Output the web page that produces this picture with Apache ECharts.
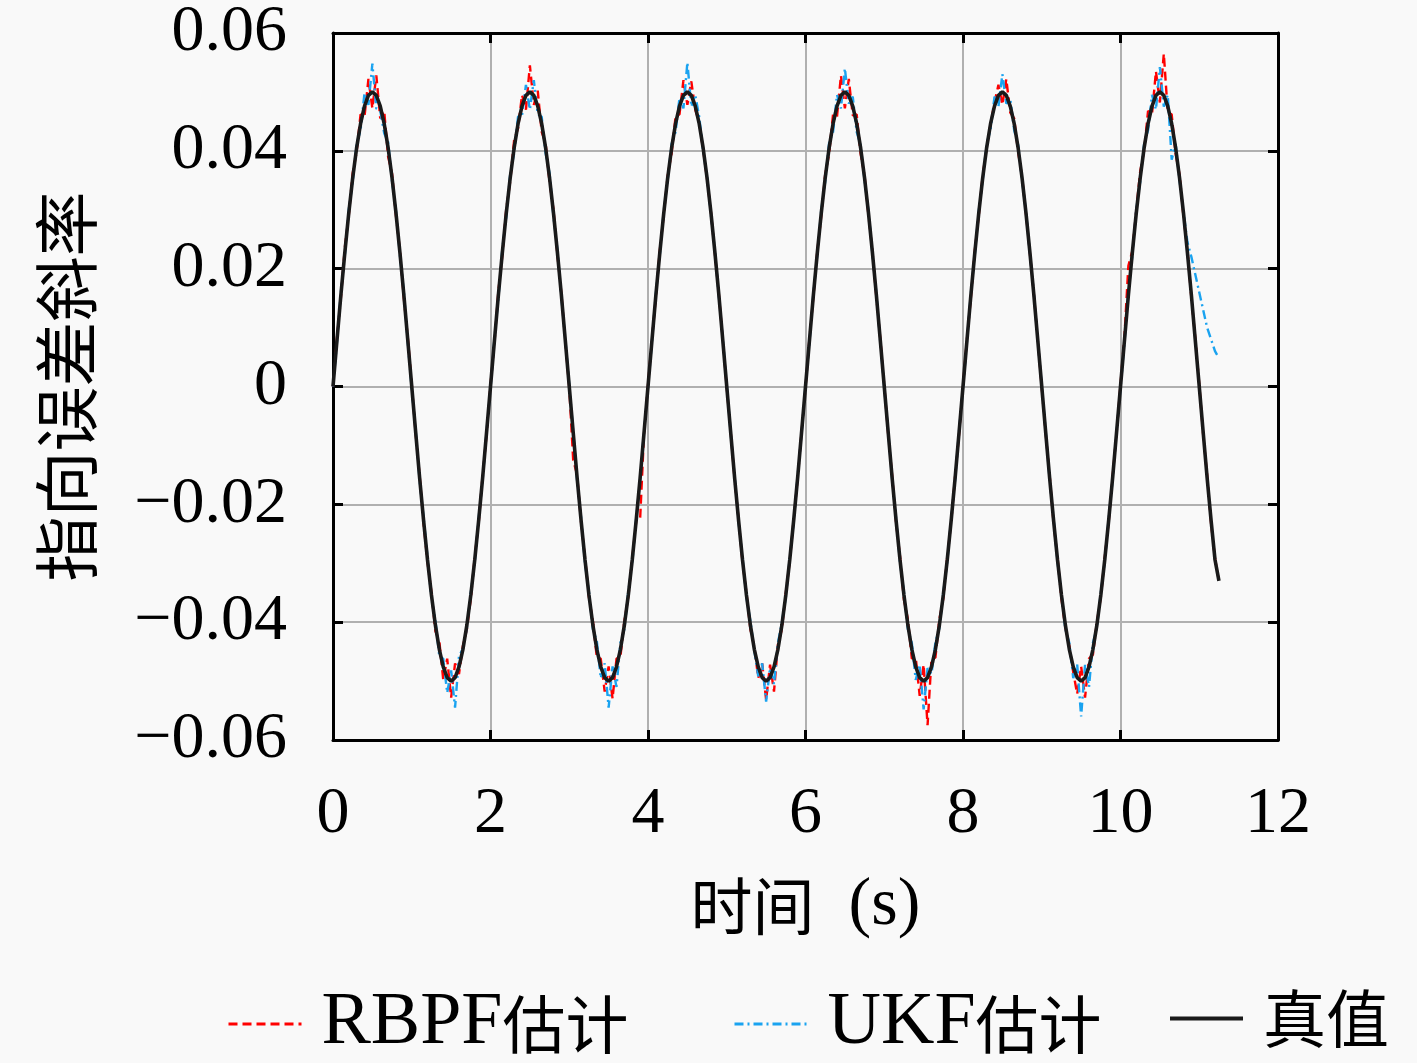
<!DOCTYPE html>
<html><head><meta charset="utf-8">
<script src="https://cdn.jsdelivr.net/npm/echarts@6/dist/echarts.min.js"></script>
<style>html,body{margin:0;padding:0;background:#f9f9f9}#c{width:1417px;height:1063px}</style>
</head><body><div id="c"></div>
<script>
// sampling step of the time axis (s)
const timeStep = 0.05;
const seriesNames = ['RBPF估计', 'UKF估计', '真值'];
const xTicks = [0, 2, 4, 6, 8, 10, 12];
const yTicks = [-0.06, -0.04, -0.02, 0, 0.02, 0.04, 0.06];

const truth = [
0,.0078,.0155,.0227,.0294,.0354,.0405,.0446,.0476,.0494,.05,.0494,.0476,.0446,.0405,.0354,.0294,.0227,.0155,.0078,
0,-.0078,-.0155,-.0227,-.0294,-.0354,-.0405,-.0446,-.0476,-.0494,-.05,-.0494,-.0476,-.0446,-.0405,-.0354,-.0294,-.0227,-.0155,-.0078,
0,.0078,.0155,.0227,.0294,.0354,.0405,.0446,.0476,.0494,.05,.0494,.0476,.0446,.0405,.0354,.0294,.0227,.0155,.0078,
0,-.0078,-.0155,-.0227,-.0294,-.0354,-.0405,-.0446,-.0476,-.0494,-.05,-.0494,-.0476,-.0446,-.0405,-.0354,-.0294,-.0227,-.0155,-.0078,
0,.0078,.0155,.0227,.0294,.0354,.0405,.0446,.0476,.0494,.05,.0494,.0476,.0446,.0405,.0354,.0294,.0227,.0155,.0078,
0,-.0078,-.0155,-.0227,-.0294,-.0354,-.0405,-.0446,-.0476,-.0494,-.05,-.0494,-.0476,-.0446,-.0405,-.0354,-.0294,-.0227,-.0155,-.0078,
0,.0078,.0155,.0227,.0294,.0354,.0405,.0446,.0476,.0494,.05,.0494,.0476,.0446,.0405,.0354,.0294,.0227,.0155,.0078,
0,-.0078,-.0155,-.0227,-.0294,-.0354,-.0405,-.0446,-.0476,-.0494,-.05,-.0494,-.0476,-.0446,-.0405,-.0354,-.0294,-.0227,-.0155,-.0078,
0,.0078,.0155,.0227,.0294,.0354,.0405,.0446,.0476,.0494,.05,.0494,.0476,.0446,.0405,.0354,.0294,.0227,.0155,.0078,
0,-.0078,-.0155,-.0227,-.0294,-.0354,-.0405,-.0446,-.0476,-.0494,-.05,-.0494,-.0476,-.0446,-.0405,-.0354,-.0294,-.0227,-.0155,-.0078,
0,.0078,.0155,.0227,.0294,.0354,.0405,.0446,.0476,.0494,.05,.0494,.0476,.0446,.0405,.0354,.0294,.0227,.0155,.0078,
0,-.0078,-.0155,-.0227,-.0294,-.033
];

const rbpf = [
0,.0082,.0150,.0236,.0290,.0362,.0398,.0462,.0458,.0522,.0472,.0528,.0455,.0468,.0390,.0361,.0289,.0231,.0149,.0083,
.0004,-.0081,-.0151,-.0232,-.0298,-.0349,-.0415,-.0432,-.0498,-.0462,-.0528,-.0470,-.0488,-.0440,-.0412,-.0360,-.0289,-.0231,-.0151,-.0082,
.0003,.0074,.0162,.0222,.0301,.0348,.0418,.0438,.0495,.0470,.0545,.0478,.0502,.0432,.0412,.0347,.0300,.0223,.0158,.0076,
-.0002,-.0125,-.0150,-.0230,-.0290,-.0358,-.0398,-.0460,-.0462,-.0518,-.0475,-.0530,-.0462,-.0458,-.0398,-.0357,-.0291,-.0229,-.0225,-.0079,
.0002,.0080,.0152,.0231,.0291,.0358,.0396,.0458,.0462,.0520,.0478,.0518,.0470,.0448,.0402,.0352,.0295,.0225,.0156,.0079,
-.0002,-.0077,-.0158,-.0225,-.0298,-.0350,-.0412,-.0442,-.0495,-.0470,-.0532,-.0472,-.0518,-.0438,-.0412,-.0350,-.0297,-.0225,-.0157,-.0077,
-.0002,.0081,.0152,.0230,.0289,.0360,.0395,.0462,.0458,.0528,.0472,.0522,.0460,.0462,.0395,.0358,.0290,.0230,.0151,.0081,
.0002,-.0081,-.0151,-.0231,-.0288,-.0362,-.0395,-.0462,-.0460,-.0525,-.0472,-.0575,-.0462,-.0460,-.0395,-.0360,-.0290,-.0230,-.0152,-.0081,
.0002,.0080,.0151,.0231,.0290,.0358,.0405,.0445,.0482,.0512,.0478,.0522,.0465,.0455,.0398,.0356,.0293,.0225,.0157,.0078,
-.0002,-.0080,-.0150,-.0232,-.0290,-.0360,-.0410,-.0440,-.0485,-.0522,-.0475,-.0528,-.0462,-.0455,-.0400,-.0358,-.0290,-.0230,-.0152,-.0080,
.0003,.0085,.0205,.0230,.0298,.0365,.0400,.0468,.0462,.0535,.0482,.0565,.0465,.0462,.0395,.0360,.0288,.0232,.0150,.0082,
.0004,-.0082,-.0150,-.0232,-.0292,-.0330
];

const ukf = [
0,.0075,.0160,.0222,.0300,.0347,.0412,.0435,.0498,.0478,.0548,.0472,.0468,.0430,.0415,.0348,.0298,.0222,.0160,.0074,
-.0004,-.0075,-.0160,-.0222,-.0289,-.0360,-.0396,-.0458,-.0462,-.0520,-.0482,-.0545,-.0458,-.0445,-.0410,-.0350,-.0298,-.0223,-.0158,-.0076,
-.0003,.0081,.0150,.0233,.0288,.0360,.0396,.0458,.0460,.0512,.0470,.0520,.0462,.0458,.0396,.0362,.0288,.0232,.0151,.0080,
.0003,-.0076,-.0160,-.0222,-.0300,-.0349,-.0412,-.0432,-.0495,-.0470,-.0545,-.0475,-.0510,-.0435,-.0412,-.0348,-.0300,-.0224,-.0158,-.0075,
-.0002,.0076,.0158,.0224,.0298,.0350,.0412,.0432,.0490,.0472,.0550,.0475,.0495,.0458,.0400,.0357,.0290,.0230,.0152,.0080,
.0002,-.0080,-.0152,-.0230,-.0291,-.0358,-.0398,-.0448,-.0492,-.0470,-.0535,-.0478,-.0505,-.0435,-.0401,-.0358,-.0291,-.0230,-.0152,-.0080,
.0002,.0075,.0158,.0224,.0299,.0348,.0414,.0432,.0495,.0472,.0540,.0480,.0492,.0432,.0410,.0350,.0298,.0224,.0158,.0075,
-.0002,-.0076,-.0158,-.0224,-.0298,-.0349,-.0412,-.0435,-.0498,-.0472,-.0548,-.0478,-.0488,-.0434,-.0410,-.0350,-.0298,-.0224,-.0158,-.0075,
-.0002,.0076,.0158,.0224,.0298,.0350,.0412,.0436,.0492,.0475,.0530,.0480,.0488,.0435,.0410,.0350,.0297,.0224,.0158,.0076,
.0002,-.0076,-.0158,-.0224,-.0298,-.0350,-.0412,-.0435,-.0495,-.0472,-.0560,-.0472,-.0510,-.0435,-.0410,-.0350,-.0297,-.0224,-.0158,-.0076,
-.0003,.0074,.0160,.0222,.0300,.0348,.0412,.0435,.0495,.0470,.0542,.0475,.0495,.0385,.0412,.0350,.0296,.0245,.0220,.0190,
.0160,.0130,.0100,.0080,.0060,.0048
];

function pairs(arr){ return arr.map((v,i)=>[+(i*timeStep).toFixed(2), v]); }

const LATIN = '"Liberation Serif",serif';
const CJK = '"Noto Sans CJK SC",sans-serif';
const richStyles = {
  a:{fontFamily:LATIN, fontSize:74, color:'#000'},
  b:{fontFamily:CJK, fontSize:63, color:'#000'},
  xa:{fontFamily:LATIN, fontSize:68, color:'#000'},
  xb:{fontFamily:CJK, fontSize:62, color:'#000'}
};
function richName(name, pa, pb){
  return name.replace(/([A-Za-z()]+)/g, '{'+pa+'|$1}').replace(/([\u4e00-\u9fff]+)/g, '{'+pb+'|$1}');
}

const chart = echarts.init(document.getElementById('c'), null, {renderer:'canvas'});
const tickStyle = {show:true, inside:true, length:10, lineStyle:{color:'#000', width:3}};
const lineBox = {show:true, onZero:false, lineStyle:{color:'#000', width:3}};
const split = {show:true, lineStyle:{color:'#b0b0b0', width:2}};
const yFmt = v => { const r = Math.round(v*100)/100; return r===0 ? '0' : r.toFixed(2).replace('-', '\u2212'); };

const legendLefts = [222, 728, 1163];
const legendLineWidths = [3, 3, 4];
const legends = seriesNames.map((n,i)=>({
  data:[n], left:legendLefts[i], top:982, itemWidth:73, itemHeight:20, orient:'horizontal',
  itemStyle:{opacity:0},
  lineStyle:{width:legendLineWidths[i]},
  formatter: name => richName(name, 'a', 'b'),
  textStyle:{rich:richStyles, padding:[0,0,0,15]}
}));

chart.setOption({
  animation:false,
  backgroundColor:'#f9f9f9',
  grid:{left:333, right:139, top:31, bottom:323, show:false},
  legend:legends,
  xAxis:[
    {type:'value', min:xTicks[0], max:xTicks[xTicks.length-1], interval:2,
     axisLine:lineBox, axisTick:tickStyle, splitLine:split,
     axisLabel:{fontSize:66, color:'#000', margin:42, fontFamily:LATIN},
     name:'{xb|时间}{xa|\u00a0\u00a0(s)}', nameLocation:'middle', nameGap:132,
     nameTextStyle:{rich:richStyles}},
    {type:'value', position:'top', min:xTicks[0], max:xTicks[xTicks.length-1], interval:2,
     axisLine:lineBox, axisTick:tickStyle, splitLine:{show:false}, axisLabel:{show:false}}
  ],
  yAxis:[
    {type:'value', min:yTicks[0], max:yTicks[yTicks.length-1], interval:0.02,
     axisLine:lineBox, axisTick:tickStyle, splitLine:split,
     axisLabel:{fontSize:66, color:'#000', margin:46, formatter:yFmt, fontFamily:LATIN},
     name:'指向误差斜率', nameLocation:'middle', nameGap:234, nameRotate:90,
     nameTextStyle:{fontSize:65, color:'#000', fontFamily:CJK}},
    {type:'value', position:'right', min:yTicks[0], max:yTicks[yTicks.length-1], interval:0.02,
     axisLine:lineBox, axisTick:tickStyle, splitLine:{show:false}, axisLabel:{show:false}}
  ],
  series:[
    {name:seriesNames[0], type:'line', data:pairs(rbpf), symbol:'none',
     lineStyle:{color:'#ff0000', width:2.4, type:[9,5]}, itemStyle:{color:'#ff0000'}, z:2},
    {name:seriesNames[1], type:'line', data:pairs(ukf), symbol:'none',
     lineStyle:{color:'#1aa3f0', width:2.4, type:[9,4,2,4]}, itemStyle:{color:'#1aa3f0'}, z:3},
    {name:seriesNames[2], type:'line', data:pairs(truth), symbol:'none',
     lineStyle:{color:'#1a1a1a', width:3.6, type:'solid'}, itemStyle:{color:'#1a1a1a'}, z:4}
  ]
});
</script></body></html>
